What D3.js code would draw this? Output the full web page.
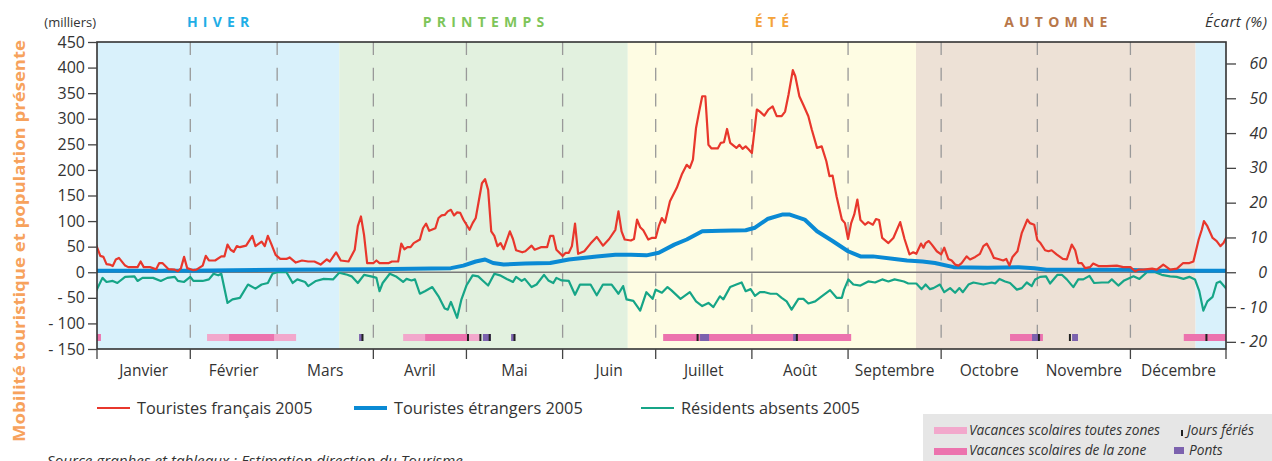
<!DOCTYPE html>
<html>
<head>
<meta charset="utf-8">
<script src="https://cdn.jsdelivr.net/npm/d3@7"></script>
<style>
  body { margin: 0; background: #fff; }
  svg { display: block; font-family: "Open Sans", sans-serif; }
</style>
</head>
<body>
<svg width="1272" height="461"></svg>
<script>
// --- data (day of year 2005, value in milliers) ---
const months = ["Janvier", "Février", "Mars", "Avril", "Mai", "Juin", "Juillet", "Août", "Septembre", "Octobre", "Novembre", "Décembre"];
const monthStarts = [0, 31, 59, 90, 120, 151, 181, 212, 243, 273, 304, 334, 365];

const seasonNames = ["HIVER", "PRINTEMPS", "ÉTÉ", "AUTOMNE", ""];
const seasonBounds = [[0, 79], [79, 172], [172, 264.9], [264.9, 355], [355, 365]];

const leftTicks = [450, 400, 350, 300, 250, 200, 150, 100, 50, 0, -50, -100, -150];
const rightTicks = [60, 50, 40, 30, 20, 10, 0, -10, -20];

const touristesFrancais = [[0,64],[2,32],[3,30],[4,16],[5,15],[6,12],[7,25],[8,28],[10,13],[11,10],[14,10],[15,21],[16,10],[18,10],[20,6],[21,18],[22,18],[24,6],[26,5],[27,2],[28,8],[29,30],[30,8],[32,4],[33,5],[35,13],[36,32],[37,23],[39,23],[41,31],[42,31],[43,54],[44,44],[45,40],[46,51],[47,49],[49,52],[51,71],[52,51],[54,60],[55,51],[56,71],[57,57],[58.5,34],[60,26],[62,26],[63,29],[65,19],[67,23],[69,21],[71,21],[73,15],[75,25],[76,21],[78,39],[79.5,23],[82,21],[84,44],[85,90],[86,109],[87,73],[88,18],[90,18],[91,23],[92,18],[95,18],[96,21],[98,21],[99,56],[100,45],[101,49],[102,49],[103,57],[105,64],[106,86],[107,95],[108,81],[110,86],[111,106],[112,111],[113,112],[114,119],[115,122],[116,111],[117,117],[118,116],[119,103],[121,83],[122,96],[123,106],[125,174],[126,182],[127,161],[128,80],[129,71],[130,51],[131,57],[132,45],[134,80],[135,65],[136,43],[138,39],[139,41],[141,52],[142,44],[144,49],[146,49],[147,71],[148,71],[149,44],[151,32],[152,38],[153,38],[154,51],[155,95],[156,36],[158,41],[160,56],[162,69],[164,52],[166,65],[168,83],[169,119],[170,80],[171,64],[173,62],[174,65],[175,103],[176,88],[177,82],[178.6,64],[179.7,67],[181,67],[182,90],[183,106],[184,97],[185.6,139],[187.8,165],[189.4,191],[191,210],[192,204],[193,220],[194,282],[195,314],[196,344],[197,344],[198,249],[199,242],[201,242],[202,253],[203,254],[204,280],[205,253],[207,243],[208,249],[209,241],[210,246],[211,240],[212,233],[213.6,318],[214.6,314],[216,306],[217.3,318],[218.7,324],[220,305],[221.6,305],[222.7,314],[223.8,347],[225.2,395],[226,383],[227.3,344],[228.6,327],[230.2,305],[231.3,279],[233,243],[234.5,246],[236,217],[237,188],[238,189],[239.3,148],[241,103],[242,96],[243,65],[244,96],[245,113],[246,142],[247,102],[248.5,93],[249.5,98],[251,93],[252,104],[253,102],[254,67],[256,57],[257.6,67],[259.8,98],[261.2,65],[262.8,35],[264,39],[265,36],[266.5,56],[267.3,48],[268,57],[269,61],[270,54],[271.6,41],[273,35],[274,48],[275.3,26],[276.4,23],[277.5,15],[278.6,13],[279.6,18],[281.2,31],[282.3,25],[284,30],[285.5,36],[286.6,51],[287.7,56],[288.8,44],[290,28],[291.4,26],[293,23],[294,26],[295,13],[296,30],[297.6,41],[299,77],[300.8,103],[301.6,96],[303,93],[304,63],[305,57],[306.5,43],[307.6,41],[308.6,43],[310.2,35],[312.2,26],[313.5,25],[315.1,54],[316.2,43],[317.2,18],[318.3,18],[319.4,8],[321,10],[322,17],[323.7,12],[326.4,12],[329.6,13],[331.7,10],[334,10],[335.5,2],[336.6,5],[338.2,5],[341,7],[342.5,5],[344.6,15],[346.8,5],[349,7],[351,18],[353,18],[354.3,21],[356,64],[357,83],[357.7,100],[358.8,90],[360.5,67],[361.8,61],[363,51],[364,57],[365,69]];

const touristesEtrangers = [[0,3],[30,3],[60,5],[90,6],[115,8],[119,13],[123,21],[126,25],[128.6,18],[132,15],[139,17],[147,18],[153,25],[162,31],[168,34],[173,34],[178,33],[182,38],[187,54],[191,64],[196,80],[202,81],[210,82],[213,87],[217,104],[222,113],[224,113],[229,103],[233,80],[238,61],[243,41],[247,31],[251,31],[258,26],[262,23],[267,21],[271,18],[277,10],[288,9],[298,10],[303,8],[307,5],[333,5],[341,3],[365,3]];

const residentsAbsents = [[0,-45],[2.7,-11],[4,-19],[6,-17],[7.5,-21],[10,-9],[13,-8],[14,-17],[15.6,-11],[19,-11],[21.5,-17],[23.6,-11],[26,-9],[27,-17],[29,-19],[31,-9],[32,-17],[35,-17],[37,-14],[38.5,-3],[40,-6],[41,-3],[43,-60],[44.6,-53],[47,-50],[49.6,-24],[52,-32],[54,-24],[56,-21],[57.5,-3],[59,0],[62,0],[64,-21],[65.5,-14],[68,-19],[69,-27],[71.5,-17],[74,-13],[77,-14],[79,-1],[81.6,-5],[83,-8],[85,-21],[87,-5],[90,-9],[91,-11],[92,-37],[93,-21],[95.3,-3],[97.5,-9],[99.6,-19],[100.7,-13],[102.3,-16],[103.4,-14],[105,-42],[106.6,-37],[109,-29],[111,-47],[113,-71],[114,-73],[115,-58],[117,-89],[118.4,-53],[120,-26],[122,-6],[123.8,-8],[125.4,-17],[127,-26],[129,-3],[130.8,-6],[133,-13],[135,-19],[136,-9],[137.8,-17],[138.8,-13],[141,-29],[142.6,-24],[145,-5],[146.4,-16],[148,-21],[149,-11],[150.7,-16],[153,-17],[155,-44],[156.6,-24],[160,-24],[162,-45],[164,-24],[166.8,-24],[169,-42],[170.5,-27],[171.6,-53],[173.8,-56],[176,-75],[178,-39],[180,-52],[181,-34],[183,-40],[184.8,-29],[186,-35],[189,-52],[192,-39],[194,-57],[196,-66],[198,-60],[199.6,-68],[201.7,-47],[202.8,-53],[205,-29],[207,-24],[208.7,-20],[210,-37],[211.6,-33],[213,-46],[214.6,-39],[216.2,-39],[218,-42],[220,-42],[221.6,-50],[223.2,-57],[224.8,-73],[227,-52],[228.6,-52],[230.2,-61],[232.4,-57],[234.5,-47],[237.2,-35],[239.3,-50],[241,-50],[241.7,-34],[243.1,-14],[244.7,-24],[247,-26],[249.5,-18],[251.7,-20],[254,-14],[256,-18],[258,-14],[261,-18],[262.4,-22],[265,-22],[266.7,-33],[268,-24],[269.4,-33],[270.5,-31],[272.6,-24],[274,-39],[275.9,-31],[277.5,-40],[278.9,-31],[280,-39],[281.8,-24],[283.4,-20],[286.6,-24],[289.3,-20],[290.4,-22],[291.8,-13],[293.6,-18],[295.2,-21],[297.4,-34],[299,-31],[300.6,-20],[302.2,-27],[303.3,-14],[304.9,-9],[306.8,-8],[308.1,-22],[310.5,-5],[311.9,-5],[313.5,-14],[315.6,-29],[317.2,-14],[318.8,-14],[320.8,-7],[322.3,-21],[324.8,-20],[326.9,-20],[328,-14],[330.1,-26],[332,-16],[335,-8],[336.9,-13],[339.3,0],[342,0],[344.1,-5],[346.8,-8],[348.9,-9],[351.1,-13],[353,-9],[354.8,-14],[356.2,-37],[357.5,-75],[358.8,-57],[360.5,-48],[361.8,-21],[362.9,-18],[365,-33]];

// school holidays [start, end] in days
const vacancesToutesZones = [[36.4, 65.1], [99.6, 124.7]];
const vacancesZone = [[0, 2.2], [43.5, 58], [106.7, 120.8], [183.4, 244], [295.2, 305.8], [351.2, 365]];
const ponts = [[85.4, 86.4], [125.3, 127.9], [134.4, 135.6], [195.3, 198.2], [225.3, 226.5], [302.3, 304.9], [315.2, 317.1]];
const joursFeries = [86, 120, 124, 127, 135, 194, 226, 304, 314, 358];

const seriesNames = ["Touristes français 2005", "Touristes étrangers 2005", "Résidents absents 2005"];

// --- layout ---
const svg = d3.select("svg");
const pl = 97, pr = 1226, pt = 42, pb = 349;
const seasonFill = ["#d9f1fb", "#e2f1df", "#fefce3", "#ede1d6", "#d9f1fb"];
const seasonText = ["#1eaee6", "#7ec55a", "#f5a33a", "#b8774a", "none"];
const lineColors = ["#e8372c", "#0a8ad4", "#16a587"];
const lineWidths = [2.2, 4, 2.2];

const x = d3.scaleLinear().domain([0, 365]).range([94.1, 1226.6]);
const y = d3.scaleLinear().domain([-150, 450]).range([pb, pt]);
const y2 = d3.scaleLinear().domain([-150 / 6.8, 450 / 6.8]).range([pb, pt]);

svg.append("clipPath").attr("id", "plot")
  .append("rect").attr("x", pl).attr("y", pt).attr("width", pr - pl).attr("height", pb - pt);

const plot = svg.append("g").attr("clip-path", "url(#plot)");

// season backgrounds
plot.selectAll(".season")
  .data(seasonBounds)
  .enter()
  .append("rect")
  .attr("x", d => x(d[0]))
  .attr("y", pt)
  .attr("width", d => x(d[1]) - x(d[0]))
  .attr("height", pb - pt)
  .attr("fill", (d, i) => seasonFill[i]);

// season labels
svg.selectAll(".seasonLabel")
  .data(seasonBounds)
  .enter()
  .append("text")
  .attr("x", d => (Math.max(x(d[0]), pl) + x(d[1])) / 2 + 2.6)
  .attr("y", 27)
  .attr("text-anchor", "middle")
  .attr("font-family", "Open Sans")
  .attr("font-weight", "bold")
  .attr("font-size", 14)
  .attr("letter-spacing", 5.2)
  .attr("fill", (d, i) => seasonText[i])
  .text((d, i) => seasonNames[i]);

// dashed month lines
plot.selectAll(".monthLine")
  .data(monthStarts.slice(1, 12))
  .enter()
  .append("line")
  .attr("x1", d => x(d)).attr("x2", d => x(d))
  .attr("y1", pt).attr("y2", pb)
  .attr("stroke", "#999")
  .attr("stroke-width", 1.3)
  .attr("stroke-dasharray", "13,12.7");

// zero line
plot.append("line")
  .attr("x1", pl).attr("x2", pr)
  .attr("y1", y(0)).attr("y2", y(0))
  .attr("stroke", "#7a7a7a")
  .attr("stroke-width", 1.6);

// holiday bars
const barY = 334, barH = 7;
plot.selectAll(".tz")
  .data(vacancesToutesZones)
  .enter().append("rect")
  .attr("x", d => x(d[0])).attr("width", d => x(d[1]) - x(d[0]))
  .attr("y", barY).attr("height", barH)
  .attr("fill", "#f2a8cc");
plot.selectAll(".zone")
  .data(vacancesZone)
  .enter().append("rect")
  .attr("x", d => x(d[0])).attr("width", d => x(d[1]) - x(d[0]))
  .attr("y", barY).attr("height", barH)
  .attr("fill", "#ec73ae");
plot.selectAll(".pont")
  .data(ponts)
  .enter().append("rect")
  .attr("x", d => x(d[0])).attr("width", d => x(d[1]) - x(d[0]))
  .attr("y", barY).attr("height", barH)
  .attr("fill", "#7c62ae");
plot.selectAll(".ferie")
  .data(joursFeries)
  .enter().append("rect")
  .attr("x", d => x(d + 0.5) - 1).attr("width", 2)
  .attr("y", barY).attr("height", barH)
  .attr("fill", "#222");

// series lines
const line = d3.line().x(d => x(d[0])).y(d => y(d[1]));
[residentsAbsents, touristesEtrangers, touristesFrancais].forEach((s, k) => {
  const i = [2, 1, 0][k];
  plot.append("path")
    .datum(s)
    .attr("d", line)
    .attr("fill", "none")
    .attr("stroke", lineColors[i])
    .attr("stroke-width", lineWidths[i])
    .attr("stroke-linejoin", "round");
});

// frame
svg.append("rect")
  .attr("x", pl).attr("y", pt)
  .attr("width", pr - pl).attr("height", pb - pt)
  .attr("fill", "none")
  .attr("stroke", "#333")
  .attr("stroke-width", 1.6);

// left axis
const yAxis = svg.append("g")
  .attr("transform", `translate(${pl},0)`)
  .call(d3.axisLeft(y).tickValues(leftTicks).tickSize(9).tickPadding(3)
    .tickFormat(d => d < 0 ? "- " + (-d) : d));
yAxis.select(".domain").remove();
yAxis.selectAll("line").attr("stroke", "#444").attr("stroke-width", 1.3);
yAxis.selectAll("text").attr("font-family", "Open Sans").attr("font-size", 16).attr("fill", "#333");

// right axis
const y2Axis = svg.append("g")
  .attr("transform", `translate(${pr},0)`)
  .call(d3.axisRight(y2).tickValues(rightTicks).tickSize(10).tickPadding(0)
    .tickFormat(d => d < 0 ? "- " + (-d) : d));
y2Axis.select(".domain").remove();
y2Axis.selectAll("line").attr("stroke", "#444").attr("stroke-width", 1.3);
y2Axis.selectAll("text")
  .attr("x", 41)
  .attr("text-anchor", "end")
  .attr("font-family", "Open Sans").attr("font-style", "italic")
  .attr("font-size", 16).attr("fill", "#333");

// bottom month ticks + labels
svg.selectAll(".mtick")
  .data(monthStarts)
  .enter().append("line")
  .attr("x1", d => Math.min(Math.max(x(d), pl), pr))
  .attr("x2", d => Math.min(Math.max(x(d), pl), pr))
  .attr("y1", pb).attr("y2", pb + 10)
  .attr("stroke", "#444").attr("stroke-width", 1.3);

svg.selectAll(".mlabel")
  .data(months)
  .enter().append("text")
  .attr("x", (d, i) => (Math.max(x(monthStarts[i]), pl) + x(monthStarts[i + 1])) / 2)
  .attr("y", 376)
  .attr("text-anchor", "middle")
  .attr("font-size", 15.5)
  .attr("fill", "#333")
  .text(d => d);

// axis titles
svg.append("text").attr("x", 96).attr("y", 27).attr("text-anchor", "end")
  .attr("font-size", 13).attr("fill", "#333").text("(milliers)");
svg.append("text").attr("x", 1205).attr("y", 27)
  .attr("font-size", 15).attr("font-style", "italic").attr("fill", "#333")
  .attr("textLength", 62).attr("lengthAdjust", "spacing")
  .text("Écart (%)");
svg.append("text")
  .attr("transform", "translate(25,241) rotate(-90)")
  .attr("x", -201)
  .attr("font-family", "Open Sans")
  .attr("font-weight", "bold")
  .attr("font-size", 16.5)
  .attr("fill", "#f7a25c")
  .attr("textLength", 402).attr("lengthAdjust", "spacingAndGlyphs")
  .text("Mobilité touristique et population présente");

// series legend
const legX = [97, 354, 641];
const leg = svg.selectAll(".leg")
  .data(seriesNames)
  .enter().append("g")
  .attr("transform", (d, i) => `translate(${legX[i]},408)`);
leg.append("line")
  .attr("x1", 0).attr("x2", 33).attr("y1", 0).attr("y2", 0)
  .attr("stroke", (d, i) => lineColors[i])
  .attr("stroke-width", (d, i) => lineWidths[i]);
leg.append("text")
  .attr("x", 40).attr("y", 6)
  .attr("font-size", 16.3).attr("fill", "#333")
  .text(d => d);

// holiday legend box
const box = svg.append("g");
box.append("rect").attr("x", 923).attr("y", 414).attr("width", 349).attr("height", 47).attr("fill", "#e6e6e6");
box.append("rect").attr("x", 934).attr("y", 427).attr("width", 33).attr("height", 7).attr("fill", "#f2a8cc");
box.append("rect").attr("x", 934).attr("y", 448).attr("width", 33).attr("height", 7).attr("fill", "#ec73ae");
box.append("rect").attr("x", 1181).attr("y", 430).attr("width", 2).attr("height", 6).attr("fill", "#222");
box.append("rect").attr("x", 1174).attr("y", 447).attr("width", 10).attr("height", 7).attr("fill", "#7c62ae");
const boxTexts = [["Vacances scolaires toutes zones", 969, 435], ["Vacances scolaires de la zone", 969, 455],
                  ["Jours fériés", 1187, 435], ["Ponts", 1189, 455]];
box.selectAll(".bt")
  .data(boxTexts)
  .enter().append("text")
  .attr("x", d => d[1]).attr("y", d => d[2])
  .attr("font-size", 13.7).attr("font-style", "italic").attr("fill", "#333")
  .text(d => d[0]);

// source
svg.append("text").attr("x", 47).attr("y", 466)
  .attr("font-size", 15.2).attr("font-style", "italic").attr("fill", "#333")
  .text("Source graphes et tableaux : Estimation direction du Tourisme");
</script>
</body>
</html>
